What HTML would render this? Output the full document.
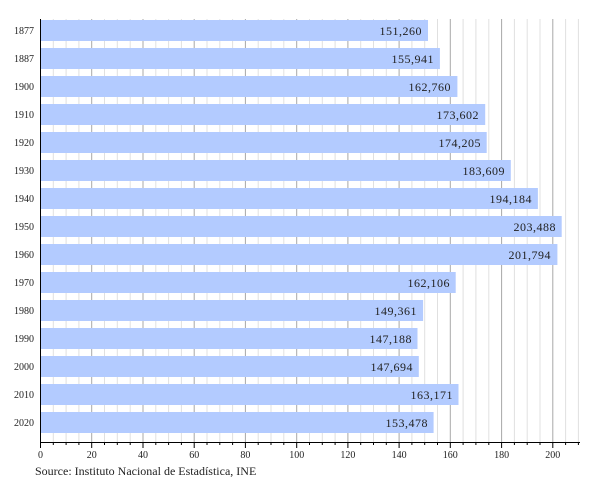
<!DOCTYPE html>
<html><head><style>body{margin:0;background:#fff}</style></head><body>
<svg width="600" height="480" xmlns="http://www.w3.org/2000/svg" font-family="Liberation Serif, serif">
<g stroke="#e0e0e0" stroke-width="1">
<path d="M53.3 19V442M66.1 19V442M78.9 19V442M104.5 19V442M117.3 19V442M130.2 19V442M155.8 19V442M168.6 19V442M181.4 19V442M207 19V442M219.8 19V442M232.6 19V442M258.2 19V442M271 19V442M283.8 19V442M309.5 19V442M322.3 19V442M335.1 19V442M360.7 19V442M373.5 19V442M386.3 19V442M411.9 19V442M424.7 19V442M437.5 19V442M463.1 19V442M475.9 19V442M488.8 19V442M514.4 19V442M527.2 19V442M540 19V442M565.6 19V442M578.4 19V442"/>
</g>
<g stroke="#a8a8a8" stroke-width="1">
<path d="M91.7 19V442M143 19V442M194.2 19V442M245.4 19V442M296.7 19V442M347.9 19V442M399.1 19V442M450.3 19V442M501.6 19V442M552.8 19V442"/>
</g>
<g fill="#b3cbff">
<rect x="41" y="20" width="387" height="21"/>
<rect x="41" y="48" width="398.9" height="21"/>
<rect x="41" y="76" width="416.4" height="21"/>
<rect x="41" y="104" width="444.2" height="21"/>
<rect x="41" y="132" width="445.7" height="21"/>
<rect x="41" y="160" width="469.8" height="21"/>
<rect x="41" y="188" width="496.9" height="21"/>
<rect x="41" y="216" width="520.7" height="21"/>
<rect x="41" y="244" width="516.4" height="21"/>
<rect x="41" y="272" width="414.7" height="21"/>
<rect x="41" y="300" width="382.1" height="21"/>
<rect x="41" y="328" width="376.5" height="21"/>
<rect x="41" y="356" width="377.8" height="21"/>
<rect x="41" y="384" width="417.5" height="21"/>
<rect x="41" y="412" width="392.6" height="21"/>
</g>
<g font-size="12" fill="#222" text-anchor="end" letter-spacing="0.5">
<text x="422" y="35">151,260</text>
<text x="434" y="63">155,941</text>
<text x="451" y="91">162,760</text>
<text x="479" y="119">173,602</text>
<text x="481" y="147">174,205</text>
<text x="505" y="175">183,609</text>
<text x="532" y="203">194,184</text>
<text x="556" y="231">203,488</text>
<text x="551" y="259">201,794</text>
<text x="450" y="287">162,106</text>
<text x="417" y="315">149,361</text>
<text x="412" y="343">147,188</text>
<text x="413" y="371">147,694</text>
<text x="453" y="399">163,171</text>
<text x="428" y="427">153,478</text>
</g>
<g font-size="10" fill="#222" text-anchor="end">
<text x="34" y="34">1877</text>
<text x="34" y="62">1887</text>
<text x="34" y="90">1900</text>
<text x="34" y="118">1910</text>
<text x="34" y="146">1920</text>
<text x="34" y="174">1930</text>
<text x="34" y="202">1940</text>
<text x="34" y="230">1950</text>
<text x="34" y="258">1960</text>
<text x="34" y="286">1970</text>
<text x="34" y="314">1980</text>
<text x="34" y="342">1990</text>
<text x="34" y="370">2000</text>
<text x="34" y="398">2010</text>
<text x="34" y="426">2020</text>
</g>
<g stroke="#000" stroke-width="1">
<path d="M40.5 19V443M40 442.5H580"/>
<path d="M53.3 442V445M66.1 442V445M78.9 442V445M104.5 442V445M117.3 442V445M130.2 442V445M155.8 442V445M168.6 442V445M181.4 442V445M207 442V445M219.8 442V445M232.6 442V445M258.2 442V445M271 442V445M283.8 442V445M309.5 442V445M322.3 442V445M335.1 442V445M360.7 442V445M373.5 442V445M386.3 442V445M411.9 442V445M424.7 442V445M437.5 442V445M463.1 442V445M475.9 442V445M488.8 442V445M514.4 442V445M527.2 442V445M540 442V445M565.6 442V445M578.4 442V445"/>
<path d="M40.5 442V448M91.7 442V448M143 442V448M194.2 442V448M245.4 442V448M296.7 442V448M347.9 442V448M399.1 442V448M450.3 442V448M501.6 442V448M552.8 442V448"/>
</g>
<g font-size="10" fill="#222" text-anchor="middle">
<text x="40.5" y="458">0</text>
<text x="91.7" y="458">20</text>
<text x="143" y="458">40</text>
<text x="194.2" y="458">60</text>
<text x="245.4" y="458">80</text>
<text x="296.7" y="458">100</text>
<text x="347.9" y="458">120</text>
<text x="399.1" y="458">140</text>
<text x="450.3" y="458">160</text>
<text x="501.6" y="458">180</text>
<text x="552.8" y="458">200</text>
</g>
<text x="35" y="475" font-size="12" fill="#222">Source: Instituto Nacional de Estadística, INE</text>
</svg>
</body></html>
